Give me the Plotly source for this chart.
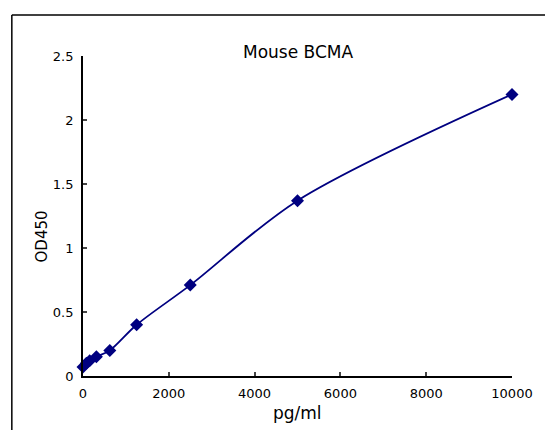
import plotly.graph_objects as go

conc = [0, 78, 156, 312, 625, 1250, 2500, 5000, 10000]
od = [0.07, 0.10, 0.12, 0.15, 0.20, 0.40, 0.71, 1.37, 2.20]
x_ticks = [0, 2000, 4000, 6000, 8000, 10000]
x_labels = ["0", "2000", "4000", "6000", "8000", "10000"]
y_ticks = [0, 0.5, 1, 1.5, 2, 2.5]
y_labels = ["0", "0.5", "1", "1.5", "2", "2.5"]

W, H = 545, 430
L, R, T, B = 83, 28, 56, 54
pw, ph = W - L - R, H - T - B

def px(x):
    return (x - L) / pw

def py(y):
    return (H - B - y) / ph

fig = go.Figure()
fig.add_trace(go.Scatter(
    x=conc, y=od, mode="lines+markers",
    line=dict(color="#000080", width=1.8, shape="spline", smoothing=0.9),
    marker=dict(symbol="diamond", size=10, color="#000080"),
    cliponaxis=False, showlegend=False,
))

font = "DejaVu Sans, Arial, sans-serif"
fig.update_layout(
    width=W, height=H,
    margin=dict(l=L, r=R, t=T, b=B),
    paper_bgcolor="white", plot_bgcolor="white",
    font=dict(family=font, color="black", size=13),
    xaxis=dict(range=[0, 10000], tickvals=x_ticks, ticktext=x_labels, ticks="inside", ticklen=4,
               tickwidth=1.5, showline=True, linecolor="black", linewidth=1.8,
               showgrid=False, zeroline=False, tickfont=dict(size=13), ticklabelstandoff=4),
    yaxis=dict(range=[0, 2.5], tickvals=y_ticks, ticktext=y_labels, ticks="inside",
               ticklen=4, tickwidth=1.5, showline=True, linecolor="black",
               linewidth=1.8, showgrid=False, zeroline=False, tickfont=dict(size=13),
               ticklabelstandoff=5),
    annotations=[
        dict(text="Mouse BCMA", x=px(300), y=py(52), xref="paper", yref="paper",
             showarrow=False, font=dict(size=17), xanchor="center", yanchor="middle"),
        dict(text="pg/ml", x=px(300), y=py(413), xref="paper", yref="paper",
             showarrow=False, font=dict(size=17), xanchor="center", yanchor="middle"),
        dict(text="OD450", x=px(42), y=py(236), xref="paper", yref="paper", textangle=-90,
             showarrow=False, font=dict(size=15), xanchor="center", yanchor="middle"),
    ],
    shapes=[
        dict(type="line", xref="paper", yref="paper", x0=px(11), x1=px(11), y0=py(15), y1=py(440),
             line=dict(color="black", width=1.5)),
        dict(type="line", xref="paper", yref="paper", x0=px(11), x1=px(560), y0=py(15), y1=py(15),
             line=dict(color="black", width=1.5)),
    ],
)
fig.write_html("out.html", config={"displayModeBar": False},
               post_script="document.body.style.margin='0';document.body.style.padding='0';")
